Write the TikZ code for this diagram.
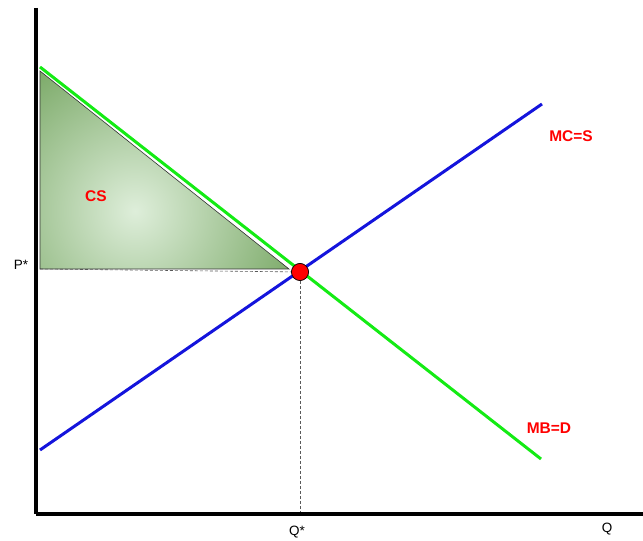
\documentclass[tikz,border=0pt]{standalone}
\usepackage{fontspec}
\setmainfont{Liberation Sans}
\usetikzlibrary{positioning}
\definecolor{demand}{RGB}{20,235,20}
\definecolor{supply}{RGB}{20,20,220}
\definecolor{csout}{RGB}{118,166,98}
\definecolor{csin}{RGB}{222,238,218}
\tikzset{
  axis/.style={line width=3.4pt},
  curve/.style={line width=3pt},
  guide/.style={draw=gray!70!black, line width=0.6pt, dash pattern=on 3pt off 2pt},
  tag/.style={text=red, font=\bfseries\fontsize{15.5}{15.5}\selectfont},
  lab/.style={font=\fontsize{13.5}{13.5}\selectfont},
  dot/.style={circle, fill=red, draw=black, line width=0.6pt, minimum size=17pt, inner sep=0pt}
}

\begin{document}
\begin{tikzpicture}[x=1pt, y=1pt]
  \useasboundingbox (0,0) rectangle (643,541);

  \coordinate (o) at (36,27);
  \coordinate (ytop) at (36,533);
  \coordinate (xend) at (643,27);
  \coordinate (dtop) at (40,474);
  \coordinate (dbot) at (541,82);
  \coordinate (sbot) at (40,91);
  \coordinate (stop) at (542,437);
  \coordinate (ctop) at (40,470);
  \coordinate (cbase) at (40,272);
  \coordinate (ctip) at (289,272);
  \coordinate (qbase) at (300,27);

  % consumer surplus
  \begin{scope}
    \clip (ctop) -- (cbase) -- (ctip) -- cycle;
    \shade[inner color=csin, outer color=csout] (135,330) circle (180);
  \end{scope}
  \draw[black!80, line width=0.6pt] (ctop) -- (cbase) -- (ctip) -- cycle;

  \node[dot] (eq) at (300,269) {};
  \draw[guide] (cbase) -- (eq);
  \draw[guide] (eq) -- (qbase);

  \draw[axis] (ytop) -- (o);
  \draw[axis] (o) -- (xend);

  \draw[curve, demand] (dtop) -- (dbot);
  \draw[curve, supply] (sbot) -- (stop);
  \node[dot] at (eq) {};

  \node[tag] (cs) at (96,345) {CS};
  \node[tag] (mcs) at (571,405) {MC=S};
  \node[tag] (mbd) at (549,113) {MB=D};
  \node[lab] (pstar) at (21,276) {P*};
  \node[lab] (qstar) at (297,9) {Q*};
  \node[lab] (qlab) at (607,12) {Q};
\end{tikzpicture}
\end{document}
